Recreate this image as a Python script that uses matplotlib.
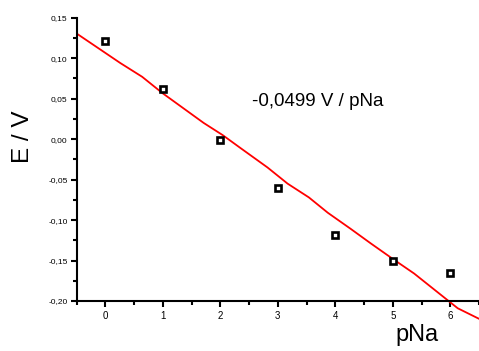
import matplotlib
matplotlib.use("Agg")
import matplotlib.pyplot as plt
from matplotlib.ticker import MultipleLocator, FuncFormatter

plt.rcParams['font.family'] = ['Liberation Sans', 'DejaVu Sans']

# measured points
pna = [0, 1, 2, 3, 4, 5, 6]
e_vals = [0.121, 0.062, -0.001, -0.061, -0.118, -0.151, -0.166]

# red fit curve as drawn
fit_x = [-0.49, 0.26, 0.64, 0.99, 1.71, 2.04, 2.35, 2.82, 3.17, 3.54, 3.87, 4.27, 4.62, 5.00, 5.37, 6.13, 6.5]
fit_y = [0.130, 0.094, 0.077, 0.057, 0.020, 0.005, -0.011, -0.035, -0.055, -0.072, -0.091, -0.111, -0.129, -0.148, -0.166, -0.209, -0.222]

slope_label = "-0,0499 V / pNa"

fig = plt.figure(figsize=(4.79, 3.51), dpi=100)
ax = fig.add_axes([0.160, 0.1425, 0.840, 0.807])

ax.plot(fit_x, fit_y, color='red', lw=1.3, clip_on=False, zorder=2)
ax.plot(pna, e_vals, ls='none', marker='s', ms=4, mfc='white', mec='black', mew=1.9, zorder=3)

ax.set_xlim(-0.5, 6.5)
ax.set_ylim(-0.20, 0.15)
ax.xaxis.set_major_locator(MultipleLocator(1))
ax.xaxis.set_minor_locator(MultipleLocator(0.5))
ax.yaxis.set_major_locator(MultipleLocator(0.05))
ax.yaxis.set_minor_locator(MultipleLocator(0.025))
ax.yaxis.set_major_formatter(FuncFormatter(lambda v, p: ('%.2f' % v).replace('.', ',').replace('-0,00', '0,00')))

for s in ['top', 'right']:
    ax.spines[s].set_visible(False)
for s in ['left', 'bottom']:
    ax.spines[s].set_linewidth(1.5)

ax.tick_params(axis='both', which='major', direction='out', length=4.5, width=1.5)
ax.tick_params(axis='both', which='minor', direction='out', length=3, width=1.5)
ax.tick_params(axis='y', labelsize=6, pad=2)
ax.tick_params(axis='x', labelsize=7, pad=3)

fig.text(0.047, 1 - 137 / 351, "E / V", fontsize=17.5, rotation=90, ha='center', va='center')
fig.text(0.825, 0.015, "pNa", fontsize=17, ha='left', va='bottom')
ax.text(2.55, 0.047, slope_label, fontsize=13.5, ha='left', va='center')

fig.savefig("out.png", dpi=100)
